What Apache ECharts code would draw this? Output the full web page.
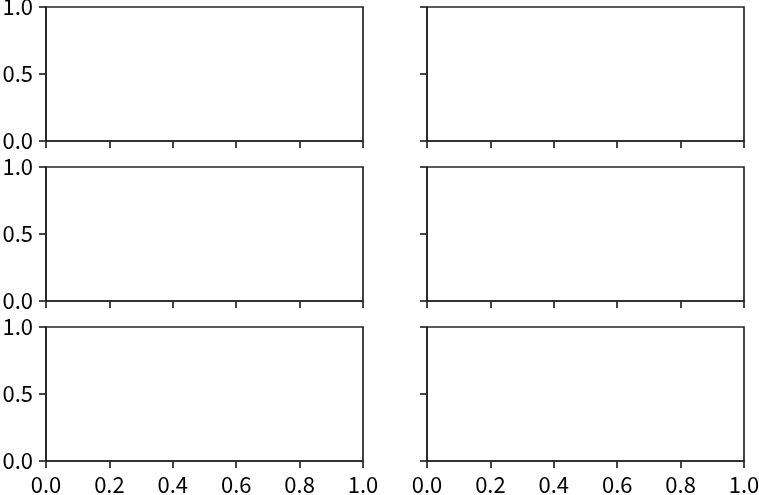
<!DOCTYPE html>
<html>
<head>
<meta charset="utf-8">
<script src="https://cdn.jsdelivr.net/npm/echarts@6/dist/echarts.min.js"></script>
<style>
html,body{margin:0;padding:0;background:#fff;}
#chart{width:759px;height:495px;}
</style>
</head>
<body>
<div id="chart"></div>
<script>
// Data: an empty 3x2 grid of subplots (no series values)
const xTicks = [0.0, 0.2, 0.4, 0.6, 0.8, 1.0];
const yTicks = [0.0, 0.5, 1.0];
const rows = [0, 1, 2];
const cols = [0, 1];
const seriesData = [[], [], [], [], [], []];

const chart = echarts.init(document.getElementById('chart'), null, {renderer: 'canvas'});
const ink = '#262626';
const font = "'Noto Sans CJK JP', 'Noto Sans', sans-serif";
const colLeft = [46, 427];
const rowTop = [7, 167, 327];
const W = 317, H = 134;

const grids = [], xAxes = [], yAxes = [], series = [];
let idx = 0;
rows.forEach(r => {
  cols.forEach(c => {
    grids.push({
      left: colLeft[c], top: rowTop[r], width: W, height: H,
      show: true, borderColor: ink, borderWidth: 1.7, backgroundColor: 'transparent',
      containLabel: false, outerBoundsMode: 'none'
    });
    xAxes.push({
      type: 'value', gridIndex: idx, min: xTicks[0], max: xTicks[xTicks.length - 1],
      interval: xTicks[1] - xTicks[0],
      axisLine: {show: true, lineStyle: {color: ink, width: 1.7}},
      axisTick: {show: true, inside: false, length: 7, lineStyle: {color: ink, width: 1.7}},
      splitLine: {show: false},
      axisLabel: {
        show: r === rows.length - 1, margin: 13, color: '#000', fontSize: 22, fontFamily: font,
        formatter: v => v.toFixed(1)
      }
    });
    yAxes.push({
      type: 'value', gridIndex: idx, min: yTicks[0], max: yTicks[yTicks.length - 1],
      interval: yTicks[1] - yTicks[0],
      axisLine: {show: true, lineStyle: {color: ink, width: 1.7}},
      axisTick: {show: true, inside: false, length: 7, lineStyle: {color: ink, width: 1.7}},
      splitLine: {show: false},
      axisLabel: {
        show: c === 0, margin: 13, color: '#000', fontSize: 22, fontFamily: font,
        formatter: v => v.toFixed(1)
      }
    });
    series.push({type: 'line', xAxisIndex: idx, yAxisIndex: idx, data: seriesData[idx], silent: true});
    idx++;
  });
});

chart.setOption({
  animation: false,
  backgroundColor: '#fff',
  grid: grids,
  xAxis: xAxes,
  yAxis: yAxes,
  series: series
});
</script>
</body>
</html>
